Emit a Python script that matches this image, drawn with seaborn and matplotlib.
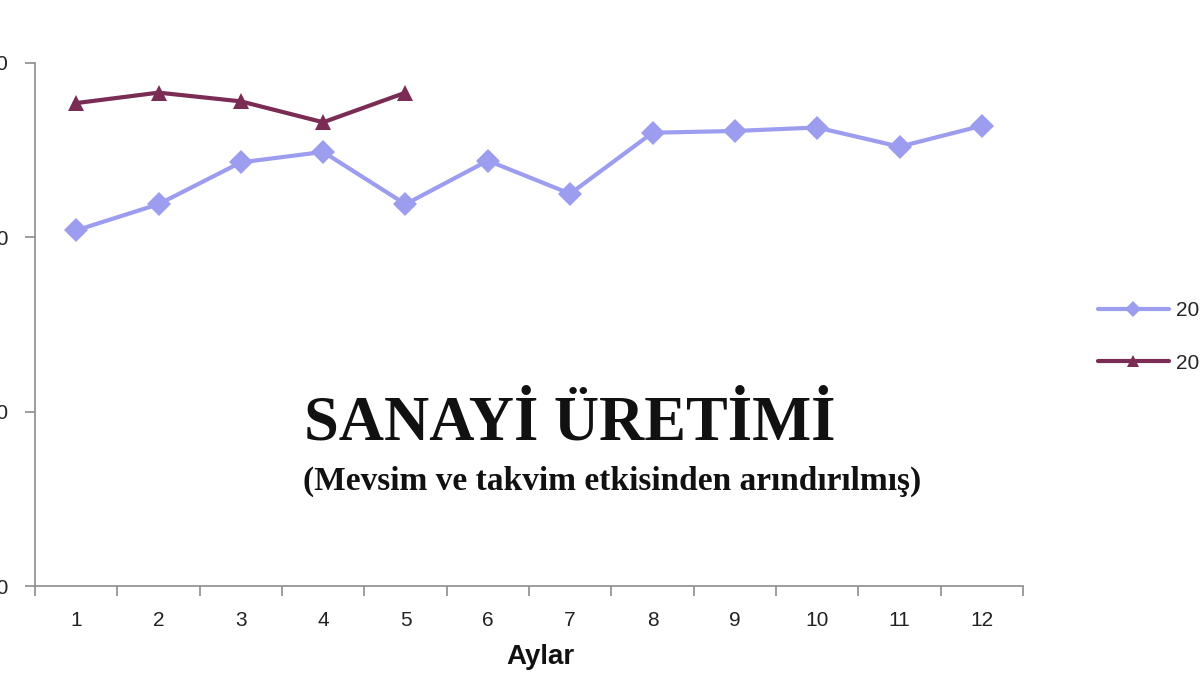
import matplotlib
matplotlib.use("Agg")
import matplotlib.pyplot as plt
import seaborn as sns
import pandas as pd
import numpy as np

# veriler
aylar = list(range(1, 13))
uretim_2010 = [110.4, 111.9, 114.3, 114.9, 111.9, 114.4, 112.5, 116.0, 116.1, 116.3, 115.2, 116.4]
uretim_2011 = [117.7, 118.3, 117.8, 116.6, 118.3]
y_ticks = [90, 100, 110, 120]

df = pd.concat([
    pd.DataFrame({"Ay": aylar, "Endeks": uretim_2010, "Yıl": "2010"}),
    pd.DataFrame({"Ay": aylar[:len(uretim_2011)], "Endeks": uretim_2011, "Yıl": "2011"}),
])

sns.set_theme(style="white")
plt.rcParams["font.family"] = ["Liberation Sans", "DejaVu Sans"]

renkler = {"2010": "#9d9df0", "2011": "#7b2c55"}
isaretler = {"2010": "D", "2011": "^"}

fig = plt.figure(figsize=(12, 6.75), dpi=100)
ax = fig.add_axes([35 / 1200, 1 - 586 / 675, 988 / 1200, 523 / 675])

sns.lineplot(data=df, x="Ay", y="Endeks", hue="Yıl", style="Yıl",
             palette=renkler, markers=isaretler, dashes=False,
             linewidth=3, markersize=12, markeredgewidth=0, ax=ax, legend=False)

ax.set_xlim(0.5, 12.5)
ax.set_ylim(y_ticks[0], y_ticks[-1])
ax.set_xticks(aylar)
ax.set_xticks(np.arange(0.5, 13, 1), minor=True)
ax.set_yticks(y_ticks)
ax.tick_params(axis="x", which="major", length=0, pad=18, labelsize=15, colors="#222222")
ax.tick_params(axis="x", which="minor", length=7, width=1.2, direction="out", color="#8c8c8c")
ax.tick_params(axis="y", length=7, width=1.2, direction="out", color="#8c8c8c",
               pad=12, labelsize=15, labelcolor="#222222")
ax.xaxis.set_ticks_position("bottom")
ax.yaxis.set_ticks_position("left")

for s in ["top", "right"]:
    ax.spines[s].set_visible(False)
for s in ["left", "bottom"]:
    ax.spines[s].set_color("#8c8c8c")
    ax.spines[s].set_linewidth(1.2)

ax.set_ylabel("")
ax.set_xlabel("Aylar", fontsize=20, fontweight="bold", va="center", color="#111111")
ax.xaxis.set_label_coords((540 - 35) / 988, -(657 - 586) / 523)

# lejant (sağ kenarda kesik)
handles = [plt.Line2D([], [], color=renkler[k], marker=isaretler[k], lw=3, ms=8, mew=0)
           for k in ["2010", "2011"]]
fig.legend(handles, ["2010", "2011"], loc="center left",
           bbox_to_anchor=(1098 / 1200, 1 - 337 / 675), frameon=False,
           fontsize=15, handlelength=3.4, handletextpad=0.35, labelspacing=1.6,
           borderpad=0, borderaxespad=0, numpoints=1)

fig.text(304 / 1200, 1 - 425 / 675, "SANAYİ ÜRETİMİ", family="Liberation Serif",
         fontweight="bold", fontsize=45, ha="left", va="center", color="#111111")
fig.text(303 / 1200, 1 - 481 / 675, "(Mevsim ve takvim etkisinden arındırılmış)",
         family="Liberation Serif", fontweight="bold", fontsize=24, ha="left",
         va="center", color="#111111")

fig.savefig("out.png", dpi=100, facecolor="white")
